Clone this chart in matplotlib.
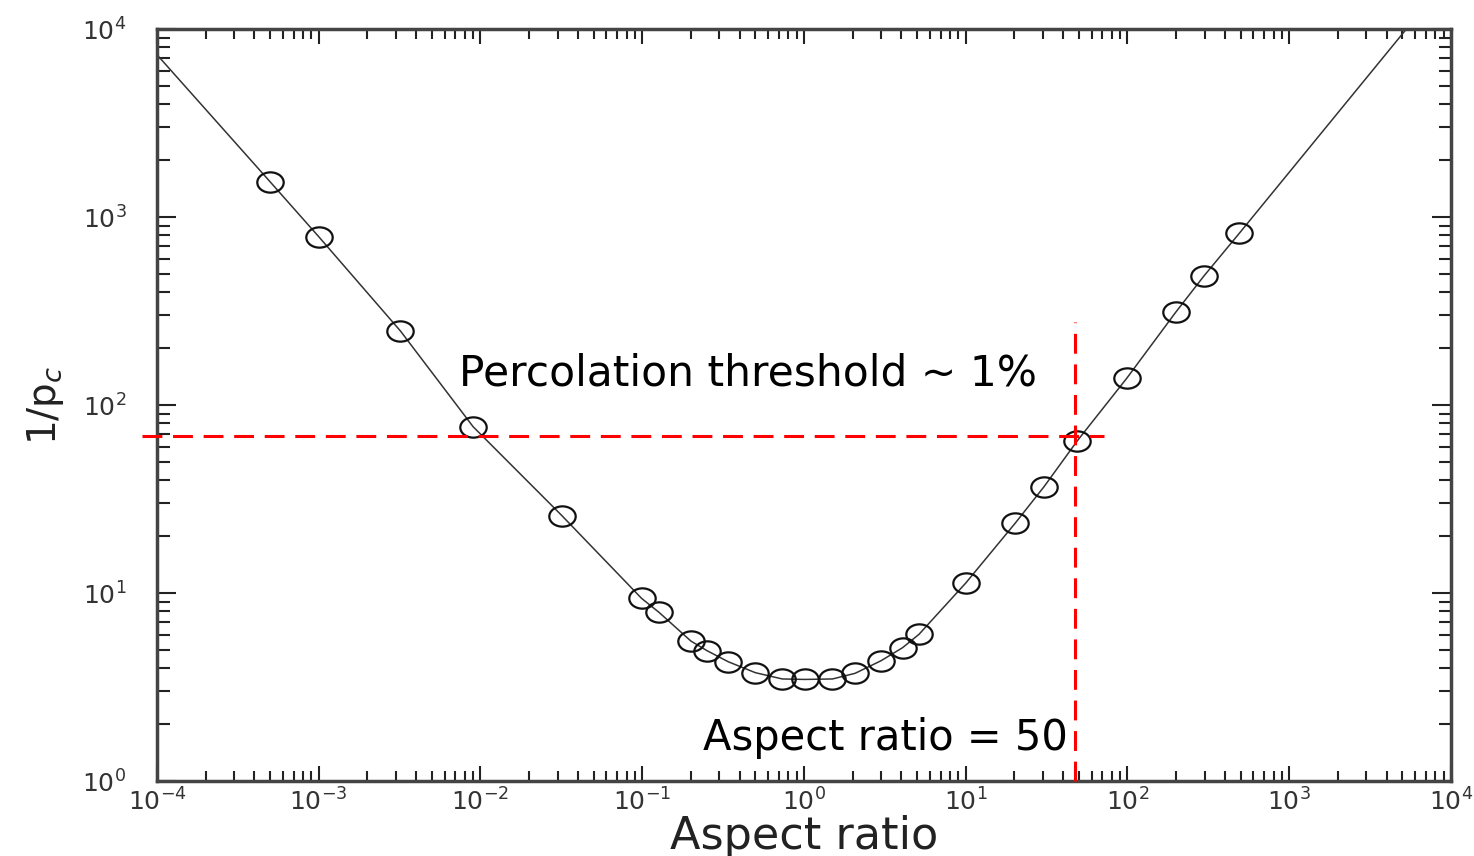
import numpy as np
import matplotlib
matplotlib.use("Agg")
import matplotlib.pyplot as plt
from matplotlib.path import Path
from matplotlib.transforms import Affine2D
from matplotlib.ticker import LogLocator, NullFormatter

# measured points (aspect ratio, 1/pc)
aspect = [5.0e-4, 1.0e-3, 3.2e-3, 9.0e-3, 3.2e-2,
          0.099, 0.127, 0.20, 0.252, 0.34, 0.50, 0.734, 1.01, 1.50,
          2.07, 2.99, 4.07, 5.14,
          10.0, 20.2, 30.5, 49.0, 98.9, 199.5, 297, 491]
inv_pc = [1541, 786, 247.6, 76.7, 25.7,
          9.37, 7.89, 5.55, 4.93, 4.31, 3.77, 3.49, 3.47, 3.49,
          3.74, 4.36, 5.12, 6.03,
          11.3, 23.5, 36.8, 64.6, 138.7, 313, 486, 819]

# fitted curve ends beyond the data
fit_start = (1.0e-4, 7300)
fit_end = (5300, 1.0e4)

# threshold guide lines
thr_y = 68.7
thr_x = 47.4
thr_x_left = 8.07e-5
thr_x_right = 71.9
thr_y_top = 276

fit_x = [fit_start[0]] + aspect + [fit_end[0]]
fit_y = [fit_start[1]] + inv_pc + [fit_end[1]]

fig = plt.figure(figsize=(14.74, 8.56), dpi=100)
ax = fig.add_axes([0.1065, 0.0876, 0.8779, 0.8785])

ax.plot(fit_x, fit_y, '-', color='#333333', lw=1.1, zorder=2)

ellipse = Path.unit_circle().transformed(Affine2D().scale(1.3, 1.0))
ax.plot(aspect, inv_pc, linestyle='none', marker=ellipse, markersize=19,
        mfc='none', mec='#111111', mew=1.6, zorder=3)

dash = (0, (6.5, 3.5))
ax.plot([thr_x_left, thr_x_right], [thr_y, thr_y], color='#ff0000', lw=2.2,
        linestyle=dash, clip_on=False, zorder=4)
ax.plot([thr_x, thr_x], [1.0, thr_y_top], color='#ff0000', lw=2.2,
        linestyle=dash, clip_on=False, zorder=4)

ax.set_xscale('log')
ax.set_yscale('log')
ax.set_xlim(1e-4, 1e4)
ax.set_ylim(1e0, 1e4)

ax.xaxis.set_major_locator(LogLocator(base=10, numticks=20))
ax.yaxis.set_major_locator(LogLocator(base=10, numticks=20))
ax.xaxis.set_minor_locator(LogLocator(base=10, subs=np.arange(2, 10), numticks=20))
ax.yaxis.set_minor_locator(LogLocator(base=10, subs=np.arange(2, 10), numticks=20))
ax.xaxis.set_minor_formatter(NullFormatter())
ax.yaxis.set_minor_formatter(NullFormatter())

for s in ax.spines.values():
    s.set_linewidth(2.5)
    s.set_color('#444444')

ax.tick_params(axis='both', which='both', direction='in', top=True, right=True,
               color='#222222', width=1.5, labelcolor='#333333', labelsize=18)
ax.tick_params(axis='x', which='major', length=11, pad=5)
ax.tick_params(axis='x', which='minor', length=7)
ax.tick_params(axis='y', which='major', length=14, pad=22)
ax.tick_params(axis='y', which='minor', length=9)

ax.set_xlabel('Aspect ratio', fontsize=32, color='#222222', labelpad=0)
ax.set_ylabel(r'1/p$_c$', fontsize=28, color='#222222', labelpad=12)

ax.text(7.36e-3, 127, 'Percolation threshold ~ 1%', fontsize=30.5,
        ha='left', va='baseline', color='black', zorder=5)
ax.text(42.9, 1.47, 'Aspect ratio = 50', fontsize=30,
        ha='right', va='baseline', color='black', zorder=5)

fig.savefig('out.png', dpi=100)
